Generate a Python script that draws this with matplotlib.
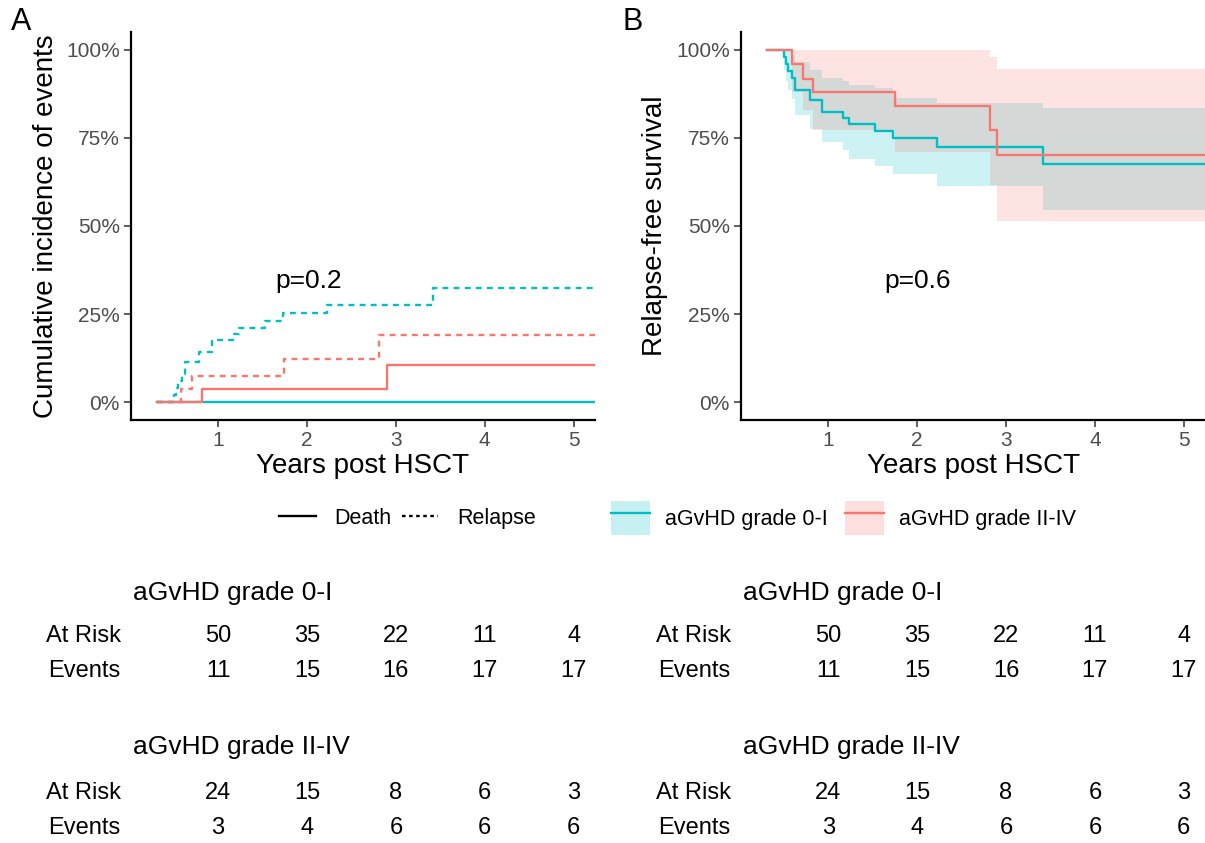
import matplotlib
matplotlib.use('Agg')
import matplotlib.pyplot as plt
import matplotlib.transforms as mtransforms
from matplotlib.lines import Line2D
from matplotlib.patches import Patch

plt.rcParams['font.family'] = ['Liberation Sans', 'DejaVu Sans']

TEAL = '#00BFC4'
RED = '#F8766D'

# ---- panel A: cumulative incidence (%), step curves ----
teal_death_t = [0.31, 5.24]
teal_death = [0, 0]
red_death_t = [0.31, 0.82, 2.90, 5.24]
red_death = [0, 3.8, 10.7, 10.7]

teal_relapse_t = [0.31, 0.50, 0.53, 0.55, 0.59, 0.63, 0.79, 0.93, 1.17, 1.23, 1.53, 1.73, 2.22, 3.42, 5.24]
teal_relapse = [0, 2.0, 4.0, 6.0, 8.0, 11.4, 14.3, 17.6, 19.4, 21.2, 23.0, 25.2, 27.6, 32.4, 32.4]
red_relapse_t = [0.31, 0.58, 0.71, 1.74, 2.81, 5.24]
red_relapse = [0, 3.8, 7.6, 12.2, 19.2, 19.2]

# ---- panel B: relapse-free survival (%) with CI ----
teal_rfs_t = [0.31, 0.50, 0.53, 0.55, 0.59, 0.63, 0.79, 0.93, 1.17, 1.23, 1.53, 1.73, 2.22, 3.42, 5.24]
teal_rfs = [100, 98, 96, 94, 92, 88.6, 85.7, 82.4, 80.6, 78.8, 77.0, 74.8, 72.4, 67.6, 67.6]
teal_rfs_hi = [100, 100, 100, 99.5, 98.5, 96.5, 94.3, 91.9, 91.0, 90.0, 89.0, 86.2, 84.8, 83.3, 83.3]
teal_rfs_lo = [100, 94.2, 91.0, 88.5, 86.0, 81.4, 77.6, 73.8, 71.5, 69.0, 67.1, 64.8, 61.4, 54.6, 54.6]

red_rfs_t = [0.31, 0.59, 0.72, 0.83, 1.75, 2.82, 2.90, 5.24]
red_rfs = [100, 95.8, 91.7, 87.9, 84.0, 77.1, 70.0, 70.0]
red_rfs_hi = [100, 100, 100, 100, 100, 98.0, 94.5, 94.5]
red_rfs_lo = [100, 88.0, 82.9, 77.3, 71.0, 61.5, 51.4, 51.4]

# ---- risk tables ----
table_times = [1, 2, 3, 4, 5]
teal_at_risk = [50, 35, 22, 11, 4]
teal_events = [11, 15, 16, 17, 17]
red_at_risk = [24, 15, 8, 6, 3]
red_events = [3, 4, 6, 6, 6]

fig = plt.figure(figsize=(12.05, 8.43), dpi=100)
axA = fig.add_axes([0.1087, 0.5018, 0.3851, 0.4603])
axB = fig.add_axes([0.615, 0.5018, 0.3851, 0.4603])


def style(ax):
    for s in ['top', 'right']:
        ax.spines[s].set_visible(False)
    for s in ['left', 'bottom']:
        ax.spines[s].set_linewidth(1.6)
        ax.spines[s].set_color('black')
    ax.set_xlim(0.02, 5.24)
    ax.set_ylim(-5, 105)
    ax.set_xticks([1, 2, 3, 4, 5])
    ax.set_yticks([0, 25, 50, 75, 100])
    ax.set_yticklabels(['0%', '25%', '50%', '75%', '100%'])
    ax.tick_params(length=5, width=1.1, color='#333333', labelcolor='#4D4D4D',
                   labelsize=15, pad=3)
    ax.set_xlabel('Years post HSCT', fontsize=20, labelpad=2)


style(axA)
style(axB)

axA.step(teal_death_t, teal_death, where='post', color=TEAL, lw=1.7)
axA.step(red_death_t, red_death, where='post', color=RED, lw=1.7)
axA.step(teal_relapse_t, teal_relapse, where='post', color=TEAL, lw=1.7, dashes=(2.5, 2.2))
axA.step(red_relapse_t, red_relapse, where='post', color=RED, lw=1.7, dashes=(2.5, 2.2))
axA.text(2.02, 34.5, 'p=0.2', ha='center', va='center', fontsize=19)
axA.set_ylabel('Cumulative incidence of events', fontsize=20, labelpad=5)

axB.step(teal_rfs_t, teal_rfs, where='post', color=TEAL, lw=1.7)
axB.step(red_rfs_t, red_rfs, where='post', color=RED, lw=1.7)
axB.fill_between(teal_rfs_t, teal_rfs_lo, teal_rfs_hi, step='post', color=TEAL, alpha=0.2, lw=0)
axB.fill_between(red_rfs_t, red_rfs_lo, red_rfs_hi, step='post', color=RED, alpha=0.2, lw=0)
axB.text(2.0, 34.5, 'p=0.6', ha='center', va='center', fontsize=19)
axB.set_ylabel('Relapse-free survival', fontsize=20, labelpad=6)

fig.text(0.009, 0.992, 'A', fontsize=22, ha='left', va='top')
fig.text(0.517, 0.992, 'B', fontsize=22, ha='left', va='top')

# legends
h1 = [Line2D([], [], color='black', lw=1.7),
      Line2D([], [], color='black', lw=1.7, dashes=(1.5, 1.5))]
fig.legend(h1, ['Death', 'Relapse'], loc='center', bbox_to_anchor=(0.338, 0.3855),
           ncol=2, frameon=False, fontsize=15.5, handlelength=1.7, handletextpad=0.85,
           columnspacing=0.5, borderpad=0)
h2 = [(Patch(facecolor=TEAL, alpha=0.22, lw=0), Line2D([], [], color=TEAL, lw=1.7)),
      (Patch(facecolor=RED, alpha=0.22, lw=0), Line2D([], [], color=RED, lw=1.7))]
fig.legend(h2, ['aGvHD grade 0-I', 'aGvHD grade II-IV'], loc='center',
           bbox_to_anchor=(0.700, 0.3855), ncol=2, frameon=False, fontsize=15.5,
           handlelength=1.8, handleheight=2.0, handletextpad=0.72, columnspacing=0.8,
           borderpad=0)

# risk tables under each panel
for ax in [axA, axB]:
    tr_num = mtransforms.blended_transform_factory(ax.transData, fig.transFigure)
    tr_lab = mtransforms.blended_transform_factory(ax.transAxes, fig.transFigure)
    groups = [('aGvHD grade 0-I', teal_at_risk, teal_events, 0.2966, 0.2456, 0.2040),
              ('aGvHD grade II-IV', red_at_risk, red_events, 0.1139, 0.0593, 0.0178)]
    for title, risk, ev, yt, yr, ye in groups:
        fig.text(0.004, yt, title, transform=tr_lab, fontsize=19, ha='left', va='center')
        fig.text(-0.022, yr, 'At Risk', transform=tr_lab, fontsize=17, ha='right', va='center')
        fig.text(-0.022, ye, 'Events', transform=tr_lab, fontsize=17, ha='right', va='center')
        for t, r, e in zip(table_times, risk, ev):
            fig.text(t, yr, str(r), transform=tr_num, fontsize=17, ha='center', va='center')
            fig.text(t, ye, str(e), transform=tr_num, fontsize=17, ha='center', va='center')

fig.savefig('out.png', dpi=100)
